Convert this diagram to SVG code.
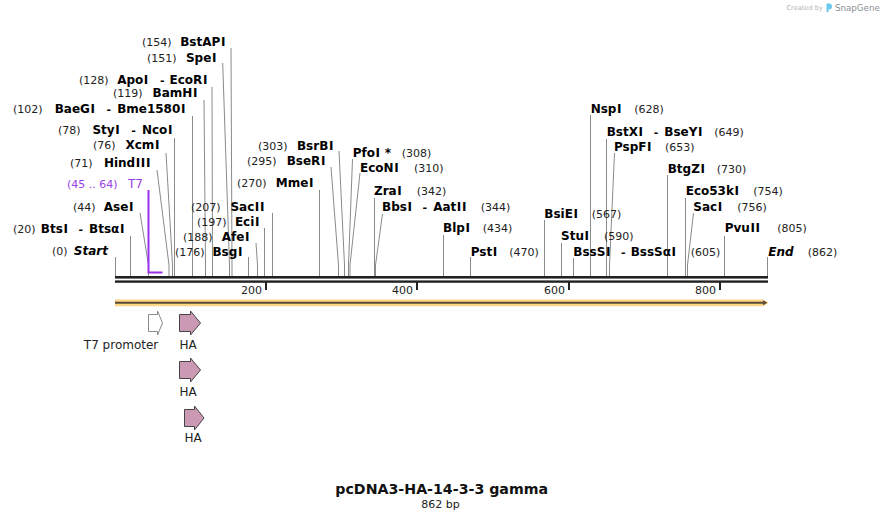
<svg xmlns="http://www.w3.org/2000/svg" width="884" height="520" viewBox="0 0 884 520">
<style>
text{font-family:"DejaVu Sans",Verdana,sans-serif}
.n{font-size:11px;fill:#222}
.b{font-size:12px;font-weight:bold;fill:#000}
.bi{font-size:12px;font-weight:bold;font-style:italic;fill:#000}
.d{font-size:11px;fill:#000}
.i{letter-spacing:0.6px}
.p{fill:#9a3ee6}
.c path{fill:none;stroke:#8a8a8a;stroke-width:1}
.f{font-size:12px;fill:#222}
.tk{font-size:11px;fill:#222;text-anchor:end}
.ha{fill:#cc99b4;stroke:#444;stroke-width:1}
</style>
<rect width="884" height="520" fill="#fff"/>

<g id="credit">
<text x="786.5" y="10" style="font-size:6.6px;fill:#b4b4b4">Created by</text>
<path d="M826.5,3.5 h2.5 a3,3 0 0 1 3,3 v0 a3,3 0 0 1 -3,3 h-0.5 v2.5 h-2 z" fill="#6ccaf0"/>
<text x="835" y="10.5" style="font-size:8.7px;fill:#8a8f96">SnapGene</text>
</g>

<g id="connectors" class="c">
<path d="M115.5,257V276"/>
<path d="M130.5,236V276"/>
<path d="M140,213L148.5,265V276"/>
<path d="M157,170L169,265V276"/>
<path d="M166,153L172.5,265V276"/>
<path d="M174.5,138V276"/>
<path d="M192.5,116V276"/>
<path d="M204,100L205.5,265V276"/>
<path d="M212,87L212.5,265V276"/>
<path d="M222.7,63L229.5,265V276"/>
<path d="M231,48L232,265V276"/>
<path d="M248.5,257V276"/>
<path d="M256,243L257.5,265V276"/>
<path d="M264.5,228V276"/>
<path d="M272.5,213V276"/>
<path d="M319.5,190V276"/>
<path d="M331,167L338.5,265V276"/>
<path d="M339,151L344.5,265V276"/>
<path d="M352.5,159L348.5,265V276"/>
<path d="M360,173L350,265V276"/>
<path d="M374.5,198V276"/>
<path d="M382.5,214L375.5,265V276"/>
<path d="M443.5,235V276"/>
<path d="M470.5,257V276"/>
<path d="M544.5,220V276"/>
<path d="M561.5,243V276"/>
<path d="M573.5,258V276"/>
<path d="M590.5,115V276"/>
<path d="M606.5,139V276"/>
<path d="M614.5,153L609.5,265V276"/>
<path d="M667.5,175V276"/>
<path d="M685.5,198V276"/>
<path d="M693.5,213L687.5,265V276"/>
<path d="M724.5,236V276"/>
<path d="M767.5,257V276"/>
</g>

<g id="t7-site">
<path d="M148.5,190V272.5H162.5" fill="none" stroke="#9a30ea" stroke-width="2"/>
<text class="n p" x="67" y="188">(45 .. 64)</text>
<text x="143" y="188" text-anchor="end" style="font-size:12px" class="p">T7</text>
</g>

<g id="backbone">
<rect x="115" y="276" width="653" height="2.6" fill="#222"/>
<rect x="115" y="280.4" width="653" height="2.4" fill="#222"/>
<rect x="265" y="282" width="2" height="8" fill="#222"/>
<rect x="416" y="282" width="2" height="8" fill="#222"/>
<rect x="568" y="282" width="2" height="8" fill="#222"/>
<rect x="719" y="282" width="2" height="8" fill="#222"/>
<text class="tk" x="262" y="294">200</text>
<text class="tk" x="413" y="294">400</text>
<text class="tk" x="565" y="294">600</text>
<text class="tk" x="716" y="294">800</text>
</g>

<g id="e-start"><text class="n" x="52" y="255">(0)</text><text class="bi" x="108" y="255" text-anchor="end">Start</text></g>
<g id="e-btsi"><text class="n" x="13" y="233">(20)</text><text class="b" x="125" y="233" text-anchor="end">Bts<tspan class="i" dx="0.6">I</tspan><tspan class="d" dx="10">-</tspan><tspan dx="6">Btsα</tspan><tspan class="i" dx="0.6">I</tspan></text></g>
<g id="e-asei"><text class="n" x="73" y="211">(44)</text><text class="b" x="134" y="211" text-anchor="end">Ase<tspan class="i" dx="0.6">I</tspan></text></g>
<g id="e-hindiii"><text class="n" x="70" y="167">(71)</text><text class="b" x="151" y="167" text-anchor="end">Hind<tspan class="i" dx="0.6">III</tspan></text></g>
<g id="e-xcmi"><text class="n" x="93" y="149">(76)</text><text class="b" x="160" y="149" text-anchor="end">Xcm<tspan class="i" dx="0.6">I</tspan></text></g>
<g id="e-styi"><text class="n" x="58" y="134">(78)</text><text class="b" x="173" y="134" text-anchor="end">Sty<tspan class="i" dx="0.6">I</tspan><tspan class="d" dx="11">-</tspan><tspan dx="6">Nco</tspan><tspan class="i" dx="0.6">I</tspan></text></g>
<g id="e-baegi"><text class="n" x="13" y="113">(102)</text><text class="b" x="186" y="113" text-anchor="end">BaeG<tspan class="i" dx="0.6">I</tspan><tspan class="d" dx="11">-</tspan><tspan dx="6">Bme1580</tspan><tspan class="i" dx="0.6">I</tspan></text></g>
<g id="e-bamhi"><text class="n" x="113" y="97">(119)</text><text class="b" x="198" y="97" text-anchor="end">BamH<tspan class="i" dx="0.6">I</tspan></text></g>
<g id="e-apoi"><text class="n" x="79" y="84">(128)</text><text class="b" x="208" y="84" text-anchor="end">Apo<tspan class="i" dx="0.6">I</tspan><tspan class="d" dx="11">-</tspan><tspan dx="5">EcoR</tspan><tspan class="i" dx="0.6">I</tspan></text></g>
<g id="e-spei"><text class="n" x="147" y="62">(151)</text><text class="b" x="217" y="62" text-anchor="end">Spe<tspan class="i" dx="0.6">I</tspan></text></g>
<g id="e-bstapi"><text class="n" x="142" y="46">(154)</text><text class="b" x="226" y="46" text-anchor="end">BstAP<tspan class="i" dx="0.6">I</tspan></text></g>
<g id="e-bsgi"><text class="n" x="175" y="256">(176)</text><text class="b" x="243" y="256" text-anchor="end">Bsg<tspan class="i" dx="0.6">I</tspan></text></g>
<g id="e-afei"><text class="n" x="183" y="241">(188)</text><text class="b" x="250" y="241" text-anchor="end">Afe<tspan class="i" dx="0.6">I</tspan></text></g>
<g id="e-ecii"><text class="n" x="197" y="226">(197)</text><text class="b" x="260" y="226" text-anchor="end">Eci<tspan class="i" dx="0.6">I</tspan></text></g>
<g id="e-sacii"><text class="n" x="191" y="211">(207)</text><text class="b" x="265" y="211" text-anchor="end">Sac<tspan class="i" dx="0.6">II</tspan></text></g>
<g id="e-mmei"><text class="n" x="237" y="187">(270)</text><text class="b" x="314" y="187" text-anchor="end">Mme<tspan class="i" dx="0.6">I</tspan></text></g>
<g id="e-bseri"><text class="n" x="247" y="165">(295)</text><text class="b" x="326" y="165" text-anchor="end">BseR<tspan class="i" dx="0.6">I</tspan></text></g>
<g id="e-bsrbi"><text class="n" x="258" y="150">(303)</text><text class="b" x="334" y="150" text-anchor="end">BsrB<tspan class="i" dx="0.6">I</tspan></text></g>

<g id="e-pfoi"><text class="b" x="352.7" y="157">Pfo<tspan class="i" dx="0.6">I</tspan> *</text><text class="n" x="401.7" y="157">(308)</text></g>
<g id="e-econi"><text class="b" x="360" y="172">EcoN<tspan class="i" dx="0.6">I</tspan></text><text class="n" x="414" y="172">(310)</text></g>
<g id="e-zrai"><text class="b" x="374" y="195">Zra<tspan class="i" dx="0.6">I</tspan></text><text class="n" x="416.7" y="195">(342)</text></g>
<g id="e-bbsi"><text class="b" x="382" y="211">Bbs<tspan class="i" dx="0.6">I</tspan><tspan class="d" dx="10">-</tspan><tspan dx="6">Aat</tspan><tspan class="i" dx="0.6">II</tspan></text><text class="n" x="480.7" y="211">(344)</text></g>
<g id="e-blpi"><text class="b" x="443" y="232">Blp<tspan class="i" dx="0.6">I</tspan></text><text class="n" x="482.7" y="232">(434)</text></g>
<g id="e-psti"><text class="b" x="470.7" y="256">Pst<tspan class="i" dx="0.6">I</tspan></text><text class="n" x="509.3" y="256">(470)</text></g>
<g id="e-bsiei"><text class="b" x="544.3" y="218">BsiE<tspan class="i" dx="0.6">I</tspan></text><text class="n" x="591.7" y="218">(567)</text></g>
<g id="e-stui"><text class="b" x="561" y="240">Stu<tspan class="i" dx="0.6">I</tspan></text><text class="n" x="604" y="240">(590)</text></g>
<g id="e-bsssi"><text class="b" x="573.3" y="256">BssS<tspan class="i" dx="0.6">I</tspan><tspan class="d" dx="10">-</tspan><tspan dx="5">BssSα</tspan><tspan class="i" dx="0.6">I</tspan></text><text class="n" x="690.7" y="256">(605)</text></g>
<g id="e-nspi"><text class="b" x="590.7" y="113">Nsp<tspan class="i" dx="0.6">I</tspan></text><text class="n" x="634.3" y="113">(628)</text></g>
<g id="e-bstxi"><text class="b" x="606.7" y="136">BstX<tspan class="i" dx="0.6">I</tspan><tspan class="d" dx="10">-</tspan><tspan dx="6">BseY</tspan><tspan class="i" dx="0.6">I</tspan></text><text class="n" x="714.3" y="136">(649)</text></g>
<g id="e-pspfi"><text class="b" x="614" y="151">PspF<tspan class="i" dx="0.6">I</tspan></text><text class="n" x="665" y="151">(653)</text></g>
<g id="e-btgzi"><text class="b" x="667.7" y="173">BtgZ<tspan class="i" dx="0.6">I</tspan></text><text class="n" x="716.7" y="173">(730)</text></g>
<g id="e-eco53ki"><text class="b" x="685.7" y="195">Eco53k<tspan class="i" dx="0.6">I</tspan></text><text class="n" x="753.3" y="195">(754)</text></g>
<g id="e-saci"><text class="b" x="693.3" y="211">Sac<tspan class="i" dx="0.6">I</tspan></text><text class="n" x="737.3" y="211">(756)</text></g>
<g id="e-pvuii"><text class="b" x="724.7" y="232">Pvu<tspan class="i" dx="0.6">II</tspan></text><text class="n" x="777.3" y="232">(805)</text></g>
<g id="e-end"><text class="bi" x="768.3" y="256">End</text><text class="n" x="807.7" y="256">(862)</text></g>

<g id="orf">
<path d="M115,299.5H763L768.8,302.8L763,306.2H115Z" fill="#fcd585"/>
<path d="M115,302.7H764" stroke="#5a4a38" stroke-width="2"/>
<path d="M763,300.2L767.3,302.7L763,305.2Z" fill="#5a4a38"/>
</g>

<g id="f-t7promoter">
<path d="M148.5,314.5H157.5V311L162.5,323L157.5,335V331.5H148.5Z" fill="#fff" stroke="#8a8a8a"/>
<text class="f" x="158.3" y="348.5" text-anchor="end">T7 promoter</text>
</g>
<g id="f-ha1">
<path class="ha" d="M179.5,314.5H190.5V311L200.5,323L190.5,335V331.5H179.5Z"/>
<text class="f" x="188" y="348.5" text-anchor="middle">HA</text>
</g>
<g id="f-ha2">
<path class="ha" d="M179.5,361.5H190.5V358L200.5,370L190.5,382V378.5H179.5Z"/>
<text class="f" x="188" y="395.5" text-anchor="middle">HA</text>
</g>
<g id="f-ha3">
<path class="ha" d="M184.5,409.5H194.5V406L204,418L194.5,430V426.5H184.5Z"/>
<text class="f" x="193" y="442" text-anchor="middle">HA</text>
</g>

<g id="title">
<text x="441.7" y="494" text-anchor="middle" style="font-size:14.2px;font-weight:bold;fill:#111">pcDNA3-HA-14-3-3 gamma</text>
<text x="440.5" y="507.5" text-anchor="middle" style="font-size:11px;fill:#222">862 bp</text>
</g>
</svg>
